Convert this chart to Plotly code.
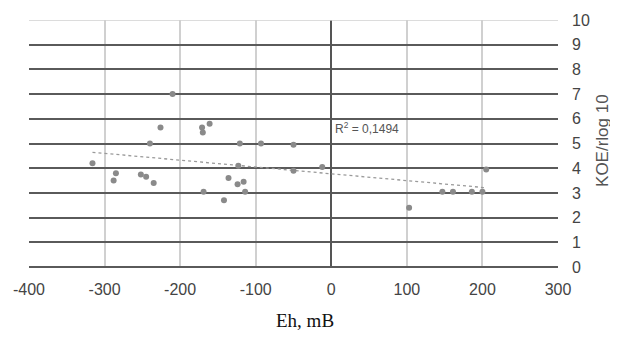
import numpy as np
import plotly.graph_objects as go

eh = [-316, -288, -285, -252, -245, -235, -240, -226, -210, -171, -170, -161,
      -169, -121, -93, -50, -123, -136, -124, -116, -114, -142, -50, -12,
      103, 147, 161, 186, 200, 205]
koe = [4.2, 3.5, 3.8, 3.75, 3.65, 3.4, 5.0, 5.65, 7.0, 5.65, 5.45, 5.8,
       3.05, 5.0, 5.0, 4.95, 4.1, 3.6, 3.35, 3.45, 3.05, 2.7, 3.9, 4.05,
       2.4, 3.05, 3.05, 3.05, 3.05, 3.95]
x_ticks = list(range(-400, 301, 100))
y_ticks = list(range(0, 11))
r2_text = "R<sup>2</sup> = 0,1494"
x_title = "Eh, mB"
y_title = "KOE/rlog 10"

x = np.array(eh, float)
y = np.array(koe, float)
k, b = np.polyfit(x, y, 1)
xt = np.array([x.min(), x.max()])

fig = go.Figure()
fig.add_trace(go.Scatter(x=xt, y=k * xt + b, mode="lines",
                         line=dict(color="#9a9a9a", width=1.3, dash="dot"),
                         hoverinfo="skip", showlegend=False))
fig.add_trace(go.Scatter(x=eh, y=koe, mode="markers",
                         marker=dict(color="#8a8a8a", size=6),
                         showlegend=False))

fig.add_shape(type="line", xref="x", yref="y", x0=-400, x1=300, y0=10, y1=10,
              line=dict(color="#d0d0d0", width=1.5), layer="above")

fig.add_annotation(x=2, y=5.63, xref="x", yref="y", text=r2_text,
                   showarrow=False, xanchor="left",
                   font=dict(family="Liberation Sans, Arial", size=12, color="#555"))

fig.add_annotation(x=0.522, y=-0.215, xref="paper", yref="paper", text=x_title,
                   showarrow=False, xanchor="center", yanchor="middle",
                   font=dict(family="Liberation Serif, Times New Roman", size=19, color="#111"))

fig.add_annotation(x=1.083, y=0.514, xref="paper", yref="paper", text=y_title,
                   showarrow=False, xanchor="center", yanchor="middle", textangle=-90,
                   font=dict(family="Liberation Sans, Arial", size=17, color="#555"))

fig.update_layout(
    width=610, height=330,
    margin=dict(l=21, r=60, t=12, b=71, autoexpand=False),
    plot_bgcolor="white", paper_bgcolor="white",
    font=dict(family="Liberation Sans, Arial", size=16, color="#444"),
    xaxis=dict(range=[-400, 300], tickvals=x_ticks,
               ticktext=[str(v) for v in x_ticks],
               showgrid=True, gridcolor="#d0d0d0", gridwidth=1.5,
               zeroline=True, zerolinecolor="#555", zerolinewidth=1.5,
               ticks="", ticklabelstandoff=11, automargin=False),
    yaxis=dict(range=[0, 10], side="right", tickvals=y_ticks,
               showgrid=True, gridcolor="#5a5a5a", gridwidth=1.5,
               zeroline=True, zerolinecolor="#5a5a5a", zerolinewidth=1.5,
               ticks="", ticklabelstandoff=13, automargin=False),
)

fig.write_html("out.html")
